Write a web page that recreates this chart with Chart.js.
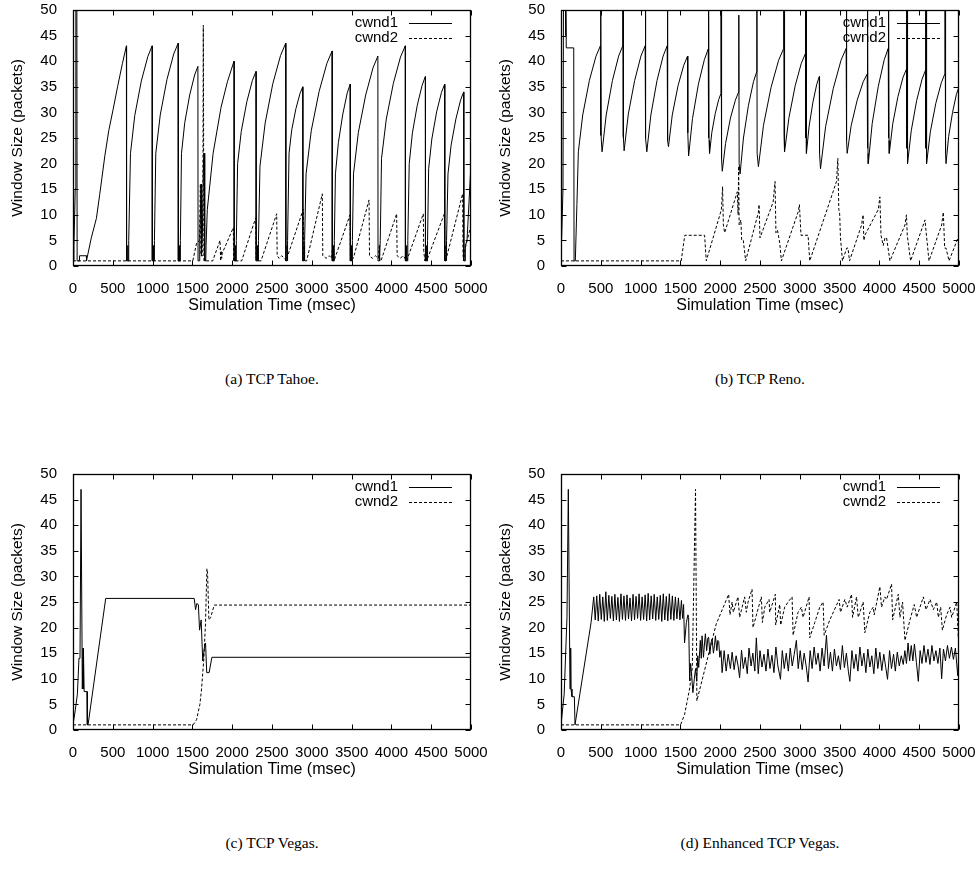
<!doctype html>
<html lang="en">

<head>
    <meta charset="UTF-8" />
    <title>Congestion window traces</title>
    <script src="https://cdn.jsdelivr.net/npm/chart.js"></script>
    <style>
        body {
            margin: 0;
            background: #fff;
            width: 976px;
            height: 874px;
            position: relative;
            overflow: hidden;
        }

        .panel {
            position: absolute;
            width: 488px;
            height: 320px;
        }

        .caption {
            position: absolute;
            width: 398px;
            text-align: center;
            font-family: "Liberation Serif", "Times New Roman", serif;
            font-size: 15.5px;
            color: #000;
            line-height: 18px;
        }
    </style>
</head>

<body>
    <div class="panel" style="left:0;top:0"><canvas id="tahoe" width="488" height="320"></canvas></div>
    <div class="panel" style="left:488px;top:0"><canvas id="reno" width="488" height="320"></canvas></div>
    <div class="panel" style="left:0;top:464px"><canvas id="vegas" width="488" height="320"></canvas></div>
    <div class="panel" style="left:488px;top:464px"><canvas id="evegas" width="488" height="320"></canvas></div>

    <div class="caption" style="left:73px;top:370px">(a) TCP Tahoe.</div>
    <div class="caption" style="left:561px;top:370px">(b) TCP Reno.</div>
    <div class="caption" style="left:73px;top:834px">(c) TCP Vegas.</div>
    <div class="caption" style="left:561px;top:834px">(d) Enhanced TCP Vegas.</div>

    <script>
        // [time (msec), window (packets)]
        const tahoeCwnd1 = [
            [0, 1], [12, 4], [28, 15], [36, 56], [48, 56], [52, 1], [80, 1], [82, 2], [168, 2], [170, 1], [176, 1.5],
            [230, 5.5], [294, 9.3], [336, 14], [400, 21.5], [450, 26.5], [503, 30.5], [560, 35], [620, 39.5], [671, 43],
            [673, 1], [686, 1], [688, 4], [690, 1], [696, 1], [700, 5], [722, 22],
            [776, 29.4], [858, 36.1], [940, 40.9], [994, 43],
            [996, 1], [1009, 1], [1011, 4], [1013, 1], [1019, 1], [1023, 5], [1040, 22],
            [1096, 29.5], [1180, 36.4], [1265, 41.4], [1321, 43.5],
            [1323, 1], [1336, 1], [1338, 4], [1340, 1], [1345, 1], [1349, 5], [1363, 22],
            [1404, 28], [1466, 33.4], [1528, 37.3], [1569, 39],
            [1571, 1], [1588, 1], [1592, 5], [1610, 16], [1614, 2], [1625, 6], [1640, 21], [1650, 22], [1655, 1], [1668, 1], [1672, 4], [1687, 11],
            [1760, 22], [1860, 31], [1940, 36], [2023, 40],
            [2025, 1], [2038, 1], [2040, 4], [2042, 1], [2048, 1], [2052, 5], [2068, 20],
            [2114, 26.3], [2184, 32.1], [2253, 36.2], [2299, 38],
            [2301, 1], [2314, 1], [2316, 4], [2318, 1], [2326, 1], [2330, 5], [2349, 19.5],
            [2414, 27.9], [2510, 35.6], [2607, 41.1], [2672, 43.5],
            [2674, 1], [2687, 1], [2689, 4], [2691, 1], [2696, 1], [2700, 5], [2714, 22],
            [2748, 26.6], [2800, 30.7], [2852, 33.7], [2886, 35],
            [2888, 1], [2901, 1], [2903, 4], [2905, 1], [2910, 1], [2914, 5], [2928, 18],
            [2993, 26.4], [3092, 34.1], [3190, 39.6], [3255, 42],
            [3257, 1], [3270, 1], [3272, 4], [3274, 1], [3279, 1], [3283, 5], [3297, 18],
            [3334, 24.1], [3390, 29.7], [3445, 33.8], [3482, 35.5],
            [3484, 1], [3497, 1], [3499, 4], [3501, 1], [3506, 1], [3510, 5], [3524, 18],
            [3585, 26.1], [3677, 33.4], [3769, 38.7], [3830, 41],
            [3832, 1], [3845, 1], [3847, 4], [3849, 1], [3856, 1], [3860, 5], [3876, 21],
            [3936, 28.7], [4025, 35.7], [4114, 40.8], [4174, 43],
            [4176, 1], [4189, 1], [4191, 4], [4193, 1], [4202, 1], [4206, 5], [4224, 20],
            [4264, 26], [4325, 31.4], [4386, 35.3], [4426, 37],
            [4428, 1], [4441, 1], [4443, 4], [4445, 1], [4450, 1], [4454, 5], [4468, 19],
            [4508, 24.8], [4568, 30.1], [4629, 33.9], [4669, 35.5],
            [4671, 1], [4684, 1], [4686, 4], [4688, 1], [4693, 1], [4697, 5], [4711, 18],
            [4750, 23.6], [4810, 28.7], [4869, 32.4], [4908, 34],
            [4910, 1], [4925, 1], [4929, 4], [4950, 5], [5000, 20]
        ];

        const tahoeCwnd2 = [
            [0, 1], [1505, 1], [1553, 4.5], [1590, 5], [1600, 16], [1606, 2], [1630, 2], [1637, 47], [1645, 1],
            [1755, 1], [1847, 5], [1855, 1], [1862, 3], [1868, 1.5], [1875, 2.5], [2014, 7.5], [2018, 1],
            [2119, 1], [2295, 9.4], [2300, 1.5], [2315, 2], [2330, 1], [2362, 1], [2559, 10.2], [2565, 2],
            [2590, 1.5], [2620, 2], [2660, 1.5], [2676, 1], [2893, 11.1], [2900, 1], [2935, 1], [3132, 14.1],
            [3138, 2], [3180, 1.5], [3220, 2], [3249, 1.5], [3262, 4], [3270, 1], [3279, 1], [3480, 10],
            [3486, 1], [3522, 1.5], [3719, 12.9], [3725, 2], [3760, 1.5], [3800, 2], [3836, 1.5], [3848, 4],
            [3856, 1], [3869, 1], [4066, 10.2], [4072, 2], [4110, 1.5], [4150, 2], [4170, 1.5], [4192, 1],
            [4401, 10.2], [4406, 3], [4420, 1], [4430, 2.5], [4443, 1], [4665, 10.2], [4670, 2], [4680, 1],
            [4690, 1.5], [4895, 14.1], [4900, 2], [4910, 1], [4920, 3], [5000, 8]
        ];

        const renoCwnd1 = [
            [0, 1], [25, 15], [32, 56], [52, 56], [58, 45], [62, 56], [66, 42.6], [160, 42.6], [164, 1], [180, 1], [200, 12], [218, 22.3],
            [273, 29.5], [356, 36.2], [440, 41], [495, 43],
            [496, 56], [499, 25.5], [502, 56], [505, 25], [516, 22.3],
            [568, 29.5], [646, 36.2], [724, 41], [776, 43],
            [777, 56], [780, 25.5], [783, 56], [786, 25], [793, 22.5],
            [846, 29.7], [925, 36.2], [1004, 41], [1057, 43],
            [1058, 56], [1061, 25.5], [1064, 56], [1067, 25], [1078, 22.3],
            [1129, 29.5], [1206, 36.2], [1283, 41], [1334, 43],
            [1335, 56], [1338, 24.5], [1341, 56], [1344, 24.5], [1350, 23.3],
            [1398, 29.5], [1470, 35.2], [1542, 39.2], [1590, 41],
            [1593, 26], [1603, 21.5],
            [1652, 28.8], [1726, 35.5], [1801, 40.3], [1850, 42.4],
            [1851, 56], [1854, 25], [1857, 56], [1860, 24.5], [1866, 22],
            [1895, 26.1], [1938, 29.8], [1981, 32.5], [2010, 33.7],
            [2011, 56], [2014, 22], [2017, 56], [2020, 21], [2026, 18.5],
            [2067, 23.9], [2129, 28.9], [2191, 32.4], [2232, 34],
            [2234, 49], [2238, 20], [2250, 18],
            [2292, 25], [2355, 31.4], [2418, 36], [2460, 38],
            [2461, 56], [2464, 22], [2480, 19.4],
            [2544, 27.5], [2639, 34.9], [2734, 40.2], [2798, 42.5],
            [2799, 56], [2802, 25.5], [2805, 56], [2808, 25], [2812, 22.3],
            [2864, 29], [2942, 35.2], [3019, 39.6], [3071, 41.5],
            [3072, 56], [3075, 25], [3078, 56], [3081, 24.5], [3085, 22],
            [3117, 27.3], [3165, 32], [3213, 35.5], [3245, 37],
            [3248, 22], [3260, 19],
            [3324, 27.2], [3421, 34.7], [3518, 40.2], [3582, 42.5],
            [3583, 56], [3586, 25], [3589, 56], [3592, 24.5], [3595, 22],
            [3645, 27.4], [3721, 32.4], [3797, 36], [3847, 37.5],
            [3848, 56], [3851, 23], [3854, 56], [3857, 22], [3860, 20],
            [3910, 27.9], [3986, 35.1], [4061, 40.3], [4111, 42.5],
            [4112, 56], [4115, 25], [4118, 56], [4121, 24.5], [4124, 22],
            [4168, 27.8], [4233, 33.1], [4298, 36.9], [4342, 38.5],
            [4343, 56], [4346, 23], [4349, 56], [4352, 22], [4355, 20],
            [4400, 26.4], [4468, 32.3], [4536, 36.5], [4581, 38.3],
            [4582, 56], [4585, 23], [4588, 56], [4591, 22], [4594, 20],
            [4640, 26.2], [4709, 31.8], [4778, 35.8], [4824, 37.6],
            [4825, 56], [4828, 23], [4831, 56], [4834, 22], [4837, 20],
            [4870, 25.3], [4919, 30], [4967, 33.5], [5000, 35]
        ];

        const renoCwnd2 = [
            [0, 1], [1510, 1], [1555, 6], [1804, 6], [1825, 1], [2015, 11], [2030, 15.5], [2040, 8], [2056, 6.5],
            [2215, 14.5], [2225, 10], [2232, 19.5], [2238, 8], [2260, 9], [2270, 5], [2290, 5], [2320, 1],
            [2480, 10.5], [2488, 12], [2500, 5.5], [2665, 12.5], [2689, 16.5], [2700, 6.5], [2720, 7], [2748, 4.5],
            [2769, 1], [2978, 10.5], [2995, 12], [3015, 6], [3104, 6], [3125, 1], [3461, 16.5], [3478, 21],
            [3490, 11], [3500, 10.5], [3511, 5.5], [3536, 1], [3590, 3.5], [3605, 3.5], [3625, 1], [3776, 8],
            [3795, 10], [3805, 5], [3817, 6], [3985, 11], [4006, 13.5], [4020, 6], [4048, 4], [4070, 5.5],
            [4090, 5.5], [4132, 1], [4321, 8], [4340, 10], [4350, 6], [4392, 1], [4573, 9], [4594, 5.5],
            [4623, 1], [4782, 8], [4803, 10.5], [4820, 3.5], [4837, 3.5], [4875, 1], [5000, 6]
        ];

        const vegasCwnd1 = [
            [0, 1], [30, 4], [55, 7], [75, 14], [88, 14], [101, 47], [117, 8], [122, 8], [126, 16], [130, 8],
            [134, 15], [140, 7.5], [176, 7.5], [180, 1], [189, 1], [411, 25.7], [1523, 25.7], [1540, 23.5],
            [1555, 24.7], [1575, 24.5], [1590, 19.5], [1610, 21.5], [1630, 13.5], [1650, 16], [1665, 17],
            [1680, 11.2], [1710, 11.2], [1745, 14.2], [5000, 14.2]
        ];

        const vegasCwnd2 = [
            [0, 1], [1510, 1], [1552, 2], [1594, 5], [1615, 8], [1644, 14], [1665, 21], [1682, 31.5], [1690, 31],
            [1707, 21.5], [1730, 22], [1774, 24.4], [5000, 24.4]
        ];

        const evegasCwnd1 = [
            [0, 1], [40, 7], [75, 22], [92, 47], [96, 47], [113, 8], [118, 8], [122, 16], [126, 8], [138, 6.5],
            [168, 6.5], [176, 1], [183, 1], [378, 21], [411, 26],
            [430, 21.5], [449, 26.2], [468, 21.3], [487, 26.5], [506, 21.6], [525, 26], [544, 21.2], [563, 27],
            [582, 21.4], [601, 26.3], [620, 21.8], [639, 26.1], [658, 21.3], [677, 26.5], [696, 21.5], [715, 25.9],
            [734, 21.2], [753, 26.6], [772, 21.6], [791, 26.2], [810, 21.4], [829, 26.4], [848, 21.7], [867, 25.8],
            [886, 21.3], [905, 26.5], [924, 21.5], [943, 26.1], [962, 21.8], [981, 26.6], [1000, 21.4], [1019, 26],
            [1038, 21.6], [1057, 26.4], [1076, 21.3], [1095, 26.7], [1114, 21.5], [1133, 26.2], [1152, 21.7],
            [1171, 26.5], [1190, 21.4], [1209, 26], [1228, 21.6], [1247, 26.3], [1266, 21.2], [1285, 26.6],
            [1304, 21.5], [1323, 26.1], [1342, 21.3], [1361, 26.6], [1380, 21.6], [1399, 26.2], [1418, 21.4],
            [1437, 26], [1456, 21.7], [1475, 25.8], [1494, 21.5], [1513, 25.3], [1528, 21.8], [1540, 24.5],
            [1552, 17], [1575, 21], [1595, 22.5], [1603, 22], [1616, 9.6], [1628, 13], [1640, 11], [1657, 7.3],
            [1675, 10], [1690, 12], [1705, 9.5], [1718, 14.5], [1730, 12.2], [1750, 17.5], [1762, 14], [1772, 18.4],
            [1790, 14.2], [1803, 17], [1814, 18.8], [1830, 15.5], [1845, 18], [1855, 18.1], [1870, 14.8], [1884, 17],
            [1898, 17.8], [1915, 15], [1928, 16.5], [1940, 18.4], [1958, 15.5], [1970, 17.5], [1981, 17.3],
            [1995, 14.2], [2010, 15.5], [2024, 11.2],
            [2050, 15.5], [2075, 11.5], [2100, 14.8], [2128, 12], [2150, 15.2], [2175, 11.8], [2200, 14.5],
            [2225, 12.5], [2244, 10.2], [2268, 15.6], [2290, 12], [2315, 14.2], [2340, 11], [2362, 16], [2388, 12.5],
            [2410, 15], [2435, 11.5], [2454, 18], [2478, 11], [2500, 15.5], [2525, 12.3], [2550, 14.8], [2575, 11.5],
            [2600, 15.8], [2625, 12], [2650, 14.6], [2675, 11.2], [2700, 16.2], [2725, 12.5], [2757, 9.9],
            [2780, 15.5], [2805, 12], [2830, 15], [2856, 11.5], [2880, 16], [2905, 12.5], [2930, 14.8], [2957, 17.5],
            [2980, 12], [3005, 15.5], [3030, 11.8], [3055, 15], [3080, 12.5], [3104, 9.4], [3130, 15.5], [3155, 12],
            [3180, 16.2], [3205, 12.8], [3230, 15], [3255, 11.5], [3280, 16], [3305, 12.5], [3335, 18.5], [3360, 12],
            [3385, 15.2], [3410, 11.5], [3435, 15.8], [3460, 12.5], [3485, 14.5], [3510, 11.8], [3535, 16.5],
            [3560, 12.2], [3585, 15], [3610, 11.5], [3629, 9.5], [3655, 15.5], [3680, 12], [3705, 14.8],
            [3730, 11.5], [3755, 16.2], [3780, 12.5], [3805, 15], [3830, 11.2], [3855, 15.8], [3880, 12.3],
            [3905, 14.5], [3930, 11], [3955, 16], [3980, 12], [4005, 15.2], [4030, 11.6], [4055, 14.8], [4080, 12.2],
            [4102, 9.9], [4128, 15.5], [4152, 12], [4178, 14.8], [4200, 11.5], [4225, 15.2], [4250, 12.5],
            [4275, 14.5], [4300, 12.8], [4320, 15.5], [4340, 13], [4360, 17], [4380, 13.5], [4400, 16.5],
            [4420, 13.5], [4440, 16.8], [4465, 13.2], [4489, 9.5], [4512, 15.5], [4535, 13], [4560, 16.5],
            [4585, 13.2], [4610, 15.8], [4635, 12.8], [4660, 16.5], [4685, 13.5], [4710, 15.5], [4735, 13],
            [4760, 16], [4782, 10], [4805, 15.8], [4830, 13.5], [4855, 16.5], [4880, 14], [4905, 16.2],
            [4930, 13.8], [4955, 16], [4984, 10.6], [5000, 15]
        ];

        const evegasCwnd2 = [
            [0, 1], [1502, 1], [1552, 3], [1590, 6], [1615, 8], [1649, 12], [1690, 47], [1707, 5.7], [1950, 20.7],
            [2106, 26.5], [2123, 22.5], [2150, 25], [2165, 23], [2223, 26], [2244, 22], [2307, 26], [2328, 23],
            [2350, 25], [2400, 27.5], [2412, 20], [2517, 26], [2530, 21], [2560, 24], [2614, 25.5], [2622, 23],
            [2693, 26.5], [2697, 20.5], [2748, 24.5], [2760, 20.5], [2810, 24], [2853, 25], [2903, 26], [2916, 18.5],
            [2978, 23], [3020, 24], [3041, 22], [3117, 26], [3125, 18], [3188, 21], [3251, 24], [3293, 25],
            [3306, 18.5], [3377, 21.5], [3494, 25.5], [3511, 23], [3566, 25.5], [3595, 24], [3650, 26.5],
            [3663, 22], [3713, 26], [3734, 22], [3796, 25], [3817, 19], [3880, 23], [3922, 24], [3935, 22.5],
            [4006, 28], [4027, 24], [4069, 26], [4090, 25.5], [4153, 28.5], [4166, 21.5], [4237, 26.5], [4258, 22],
            [4291, 25], [4321, 17.5], [4384, 21.5], [4438, 24.5], [4468, 22], [4510, 24], [4552, 26], [4586, 23.5],
            [4636, 25.5], [4678, 23.5], [4720, 25], [4741, 22], [4770, 24], [4791, 19.5], [4845, 22.5], [4887, 24],
            [4908, 22], [4971, 25], [4992, 18], [5000, 25]
        ];

        const timeTicks = { min: 0, max: 5000, step: 500 };
        const windowTicks = { min: 0, max: 50, step: 5 };

        const FONT = '"Liberation Sans", Arial, Helvetica, sans-serif';
        Chart.defaults.font.family = FONT;
        Chart.defaults.font.size = 15;
        Chart.defaults.color = '#000';

        const toXY = rows => rows.map(([t, w]) => ({ x: t, y: w }));

        // gnuplot look: key inside top right, border box, ticks pointing inwards on all sides
        const gnuplotFrame = {
            id: 'gnuplotFrame',
            beforeDatasetsDraw(chart) {
                const { ctx, chartArea: a } = chart;
                ctx.save();
                ctx.font = '15px ' + FONT;
                ctx.fillStyle = '#000';
                ctx.textAlign = 'right';
                ctx.textBaseline = 'middle';
                chart.data.datasets.forEach((ds, i) => {
                    const yy = a.top + 12.5 + i * 15.4;
                    ctx.fillText(ds.label, a.right - 73, yy);
                    ctx.beginPath();
                    ctx.setLineDash(ds.borderDash || []);
                    ctx.lineWidth = ds.borderWidth;
                    ctx.strokeStyle = ds.borderColor;
                    ctx.moveTo(a.right - 62, Math.round(yy) + 0.5);
                    ctx.lineTo(a.right - 19, Math.round(yy) + 0.5);
                    ctx.stroke();
                });
                ctx.restore();
            },
            afterDatasetsDraw(chart) {
                const { ctx, chartArea: a, scales: { x, y } } = chart;
                const L = Math.round(a.left) + 0.5, R = Math.round(a.right) - 0.5;
                const T = Math.round(a.top) + 0.5, B = Math.round(a.bottom) - 0.5;
                ctx.save();
                ctx.strokeStyle = '#000';
                ctx.lineWidth = 1;
                ctx.setLineDash([]);
                ctx.beginPath();
                x.ticks.forEach(t => {
                    const px = Math.round(x.getPixelForValue(t.value)) + 0.5;
                    ctx.moveTo(px, B); ctx.lineTo(px, B - 5);
                    ctx.moveTo(px, T); ctx.lineTo(px, T + 5);
                });
                y.ticks.forEach(t => {
                    const py = Math.round(y.getPixelForValue(t.value)) + 0.5;
                    ctx.moveTo(L, py); ctx.lineTo(L + 5, py);
                    ctx.moveTo(R, py); ctx.lineTo(R - 5, py);
                });
                ctx.stroke();
                ctx.lineWidth = 1.3;
                ctx.strokeRect(L, T, R - L, B - T);
                ctx.restore();
            }
        };

        function makeChart(id, cwnd1, cwnd2) {
            return new Chart(document.getElementById(id), {
                type: 'line',
                data: {
                    datasets: [{
                        label: 'cwnd1',
                        data: toXY(cwnd1),
                        borderColor: '#000',
                        borderWidth: 1,
                        pointRadius: 0,
                        tension: 0,
                        fill: false
                    }, {
                        label: 'cwnd2',
                        data: toXY(cwnd2),
                        borderColor: '#000',
                        borderWidth: 1,
                        borderDash: [3, 2],
                        pointRadius: 0,
                        tension: 0,
                        fill: false
                    }]
                },
                options: {
                    responsive: false,
                    animation: false,
                    devicePixelRatio: 1,
                    layout: { padding: { top: 10, right: 17, left: 0, bottom: 0 } },
                    plugins: {
                        legend: { display: false },
                        tooltip: { enabled: false }
                    },
                    scales: {
                        x: {
                            type: 'linear',
                            min: timeTicks.min,
                            max: timeTicks.max,
                            grid: { display: false },
                            border: { display: false },
                            ticks: {
                                stepSize: timeTicks.step,
                                autoSkip: false,
                                maxRotation: 0,
                                padding: 6,
                                color: '#000',
                                callback: v => String(v)
                            },
                            title: {
                                display: true,
                                text: 'Simulation Time (msec)',
                                font: { size: 16 },
                                color: '#000',
                                padding: { top: 0, bottom: 5 }
                            },
                            afterFit(scale) {
                                scale.height = 54;
                                scale.paddingLeft = 0;
                                scale.paddingRight = 0;
                            }
                        },
                        y: {
                            min: windowTicks.min,
                            max: windowTicks.max,
                            grid: { display: false },
                            border: { display: false },
                            ticks: { stepSize: windowTicks.step, padding: 8, color: '#000', callback: v => String(v) },
                            title: {
                                display: true,
                                text: 'Window Size (packets)',
                                font: { size: 15.5 },
                                color: '#000',
                                padding: { top: 8, bottom: 0 }
                            },
                            afterFit(scale) {
                                scale.width = 73;
                                scale.paddingTop = 0;
                                scale.paddingBottom = 0;
                            }
                        }
                    }
                },
                plugins: [gnuplotFrame]
            });
        }

        makeChart('tahoe', tahoeCwnd1, tahoeCwnd2);
        makeChart('reno', renoCwnd1, renoCwnd2);
        makeChart('vegas', vegasCwnd1, vegasCwnd2);
        makeChart('evegas', evegasCwnd1, evegasCwnd2);
    </script>
</body>

</html>
